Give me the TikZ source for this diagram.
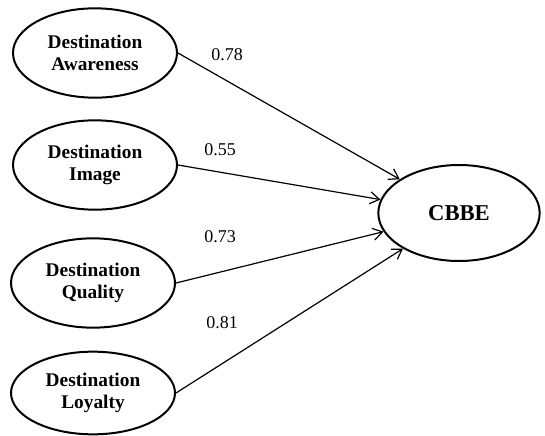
\documentclass[tikz,border=0pt]{standalone}
\usepackage{fontspec}
\setmainfont{Liberation Serif}
\usetikzlibrary{shapes.geometric,arrows.meta}

\tikzset{every picture/.style={line width=0.75pt}}
\tikzset{
  construct/.style={draw,ellipse,line width=1.5pt,minimum width=123pt,minimum height=67pt,inner sep=0pt,align=center,font=\fontsize{14.5}{16}\selectfont\bfseries},
  loading/.style={anchor=center,inner sep=0.75pt,font=\fontsize{13.5}{16}\selectfont},
  path/.style={line width=0.9pt,-{Straight Barb[length=7pt,width=9pt,line width=0.9pt]}}
}

\begin{document}
\begin{tikzpicture}[x=0.75pt,y=0.75pt,yscale=-1,xscale=1]
\useasboundingbox (0,0) rectangle (545,435);

%Shape: Ellipse [id:awareness]
\node [construct] (aware) at (95,53) {Destination\\Awareness};
%Shape: Ellipse [id:image]
\node [construct] (image) at (95,165) {Destination\\Image};
%Shape: Ellipse [id:quality]
\node [construct] (quality) at (93,283) {Destination\\Quality};
%Shape: Ellipse [id:loyalty]
\node [construct,minimum height=62pt] (loyal) at (93,393) {Destination\\Loyalty};
%Shape: Ellipse [id:cbbe]
\node [construct,minimum width=121pt,minimum height=72pt,font=\fontsize{17}{19}\selectfont\bfseries] (cbbe) at (459,213) {CBBE};

%Straight Lines
\draw [path] (aware.east) -- (cbbe);
\draw [path] (image.east) -- (cbbe);
\draw [path] (quality.east) -- (cbbe);
\draw [path] (loyal.east) -- (cbbe);

% Text Node
\node [loading] (l1) at (227,55) {0.78};
% Text Node
\node [loading] (l2) at (220,150) {0.55};
% Text Node
\node [loading] (l3) at (220,237) {0.73};
% Text Node
\node [loading] (l4) at (222,323) {0.81};

\end{tikzpicture}
\end{document}
